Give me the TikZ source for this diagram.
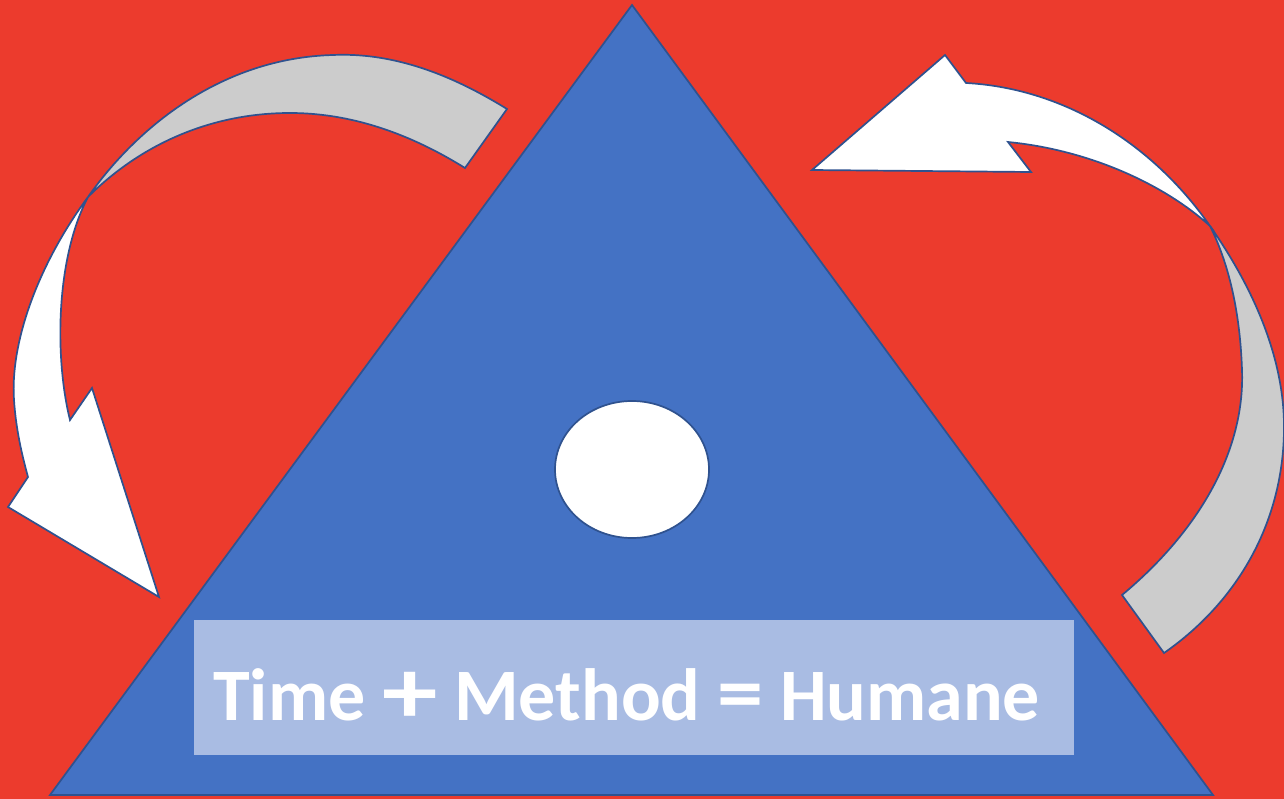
\documentclass[tikz,border=0pt]{standalone}
\usepackage{fontspec}
\setmainfont{Carlito}
\usepackage{graphicx}
\usetikzlibrary{shapes.geometric}
\definecolor{bgred}{HTML}{EC3B2D}
\definecolor{triblue}{HTML}{4472C4}
\definecolor{edgeblue}{HTML}{2F528F}
\definecolor{boxblue}{HTML}{A9BCE3}
\definecolor{lightgrey}{HTML}{CCCCCC}
\begin{document}
\begin{tikzpicture}[x=1pt,y=-1pt,
  outl/.style={draw=edgeblue, line width=1.7pt, line join=miter}]
\fill[bgred] (0,0) rectangle (1284,799);
\useasboundingbox (0,0) rectangle (1284,799);
% triangle
\coordinate (apex) at (632,5);
\coordinate (bl) at (50,795);
\coordinate (br) at (1213,795);
\path[outl, fill=triblue] (apex) -- (bl) -- (br) -- cycle;
% left curved arrow: grey back band
\path[outl, fill=lightgrey] (88,197) .. controls (137,127) and (222,58) .. (333,55)
  .. controls (400,52) and (460,80) .. (507,109) -- (465,168)
  .. controls (420,140) and (360,113) .. (290,113)
  .. controls (210,113) and (140,145) .. (88,197) -- cycle;
% left curved arrow: white front with head
\path[outl, fill=white] (88,197) .. controls (40,262) and (10,340) .. (14,400)
  .. controls (16,430) and (22,455) .. (28,477)
  -- (8,507) -- (159,597) -- (92,388) -- (70,420)
  .. controls (55,360) and (55,260) .. (88,197) -- cycle;
% right curved arrow: grey back band
\path[outl, fill=lightgrey] (1210,226) .. controls (1245,276) and (1285,350) .. (1284,430)
  .. controls (1283,520) and (1240,600) .. (1164,653) -- (1122,595)
  .. controls (1200,530) and (1245,450) .. (1242,370)
  .. controls (1240,310) and (1228,262) .. (1210,226) -- cycle;
% right curved arrow: white front with head
\path[outl, fill=white] (812,170) -- (945,55) -- (966,83)
  .. controls (1060,88) and (1150,140) .. (1210,226)
  .. controls (1165,185) and (1090,150) .. (1008,142)
  -- (1031,172) -- cycle;
% centre ellipse
\node[ellipse, outl, fill=white, minimum width=154pt, minimum height=137pt, inner sep=0pt] (dot) at (632,469.5) {};
% label box
\node[fill=boxblue, minimum width=880pt, minimum height=135pt, inner sep=0pt, anchor=north west] (box) at (194,620) {};
\node[anchor=base west, inner sep=0pt, text=white, font=\fontsize{74}{80}\selectfont\bfseries] (label) at (213,720)
  {Time \raisebox{-3pt}{\scalebox{1.5}[1.25]{+}} Method \scalebox{1.25}[1.1]{=} Humane};
\end{tikzpicture}
\end{document}
